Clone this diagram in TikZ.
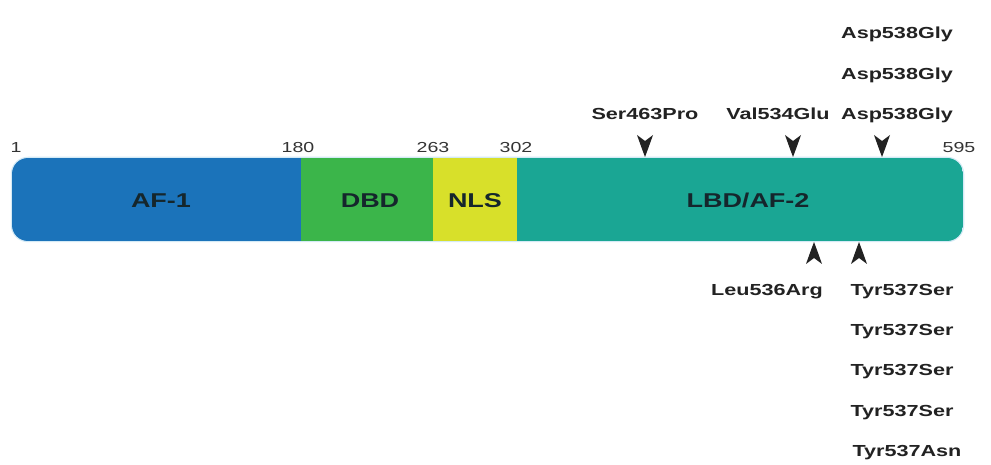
\documentclass[tikz,border=0pt]{standalone}
\usepackage{fontspec}
\setmainfont{Liberation Sans}[FakeStretch=1.35]
\definecolor{afblue}{HTML}{1B73BA}
\definecolor{dbdgreen}{HTML}{3BB54A}
\definecolor{nlsyellow}{HTML}{D8E02A}
\definecolor{lbdteal}{HTML}{1AA694}
\definecolor{txt}{HTML}{222222}
\definecolor{numtxt}{HTML}{333333}
\definecolor{domtxt}{HTML}{15262C}
\definecolor{glow}{HTML}{D4EAF6}
\begin{document}
\begin{tikzpicture}[x=1pt,y=-1pt,
  mut/.style={font=\fontsize{16}{16}\selectfont\bfseries, text=txt, anchor=base, inner sep=0pt},
  num/.style={font=\fontsize{14.5}{14.5}\selectfont, text=numtxt, anchor=base, inner sep=0pt},
  dom/.style={font=\fontsize{20}{20}\selectfont\bfseries, text=domtxt, anchor=base, inner sep=0pt},
  downhead/.pic={\fill[txt] (0,0) .. controls (-3,-8) .. (-8,-22) -- (0,-16) -- (8,-22) .. controls (3,-8) .. (0,0) -- cycle;},
  uphead/.pic={\fill[txt] (0,0) .. controls (-3,8) .. (-8,22) -- (0,16) -- (8,22) .. controls (3,8) .. (0,0) -- cycle;}]
\useasboundingbox (0,0) rectangle (991,465);
\fill[white] (0,0) rectangle (991,465);

% bar
\draw[glow, line width=2.5, rounded corners=16] (12,158) rectangle (963,241);
\begin{scope}
  \clip[rounded corners=16] (12,158) rectangle (963,241);
  \fill[afblue] (12,158) rectangle (301,241);
  \fill[dbdgreen] (301,158) rectangle (433,241);
  \fill[nlsyellow] (433,158) rectangle (517,241);
  \fill[lbdteal] (517,158) rectangle (963,241);
\end{scope}

% domain labels
\node[dom] (af1) at (161,208) {AF-1};
\node[dom] (dbd) at (370,208) {DBD};
\node[dom] (nls) at (475,208) {NLS};
\node[dom] (lbd) at (748,208) {LBD/AF-2};

% residue numbers
\node[num] (n1) at (16,153) {1};
\node[num] (n180) at (298,153) {180};
\node[num] (n263) at (433,153) {263};
\node[num] (n302) at (516,153) {302};
\node[num] (n595) at (959,153) {595};

% arrowheads
\coordinate (a463) at (645,157);
\coordinate (a534) at (793,157);
\coordinate (a538) at (882,157);
\coordinate (a536) at (814,242);
\coordinate (a537) at (859,242);
\pic at (a463) {downhead};
\pic at (a534) {downhead};
\pic at (a538) {downhead};
\pic at (a536) {uphead};
\pic at (a537) {uphead};

% mutation labels above
\node[mut] (m463) at (645,120) {Ser463Pro};
\node[mut] (m534) at (778,120) {Val534Glu};
\node[mut] (m538a) at (897,120) {Asp538Gly};
\node[mut] (m538b) at (897,80) {Asp538Gly};
\node[mut] (m538c) at (897,39) {Asp538Gly};

% mutation labels below
\node[mut] (m536) at (767,295) {Leu536Arg};
\node[mut] (m537a) at (902,295) {Tyr537Ser};
\node[mut] (m537b) at (902,335) {Tyr537Ser};
\node[mut] (m537c) at (902,375) {Tyr537Ser};
\node[mut] (m537d) at (902,416) {Tyr537Ser};
\node[mut] (m537e) at (907,456) {Tyr537Asn};
\end{tikzpicture}
\end{document}
